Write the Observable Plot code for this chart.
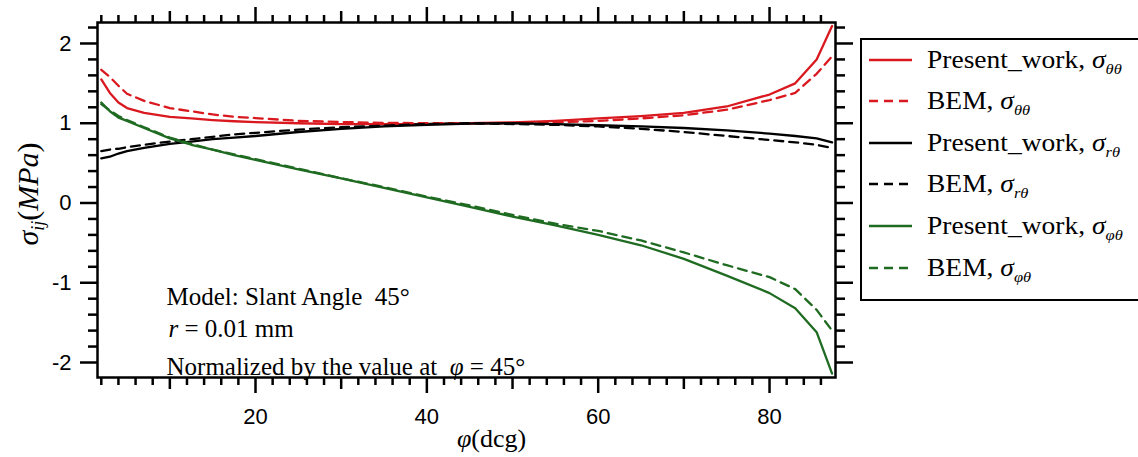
<!DOCTYPE html>
<html>
<head>
<meta charset="utf-8">
<script src="https://cdn.jsdelivr.net/npm/d3@7"></script>
<script src="https://cdn.jsdelivr.net/npm/@observablehq/plot@0.6"></script>
<style>
  body { margin: 0; background: #fff; }
  #wrap { position: relative; width: 1138px; height: 457px; overflow: hidden; background: #fff; }
  #legend { position: absolute; left: 860px; top: 38px; width: 300px; height: 263px; border: 2.5px solid #000;
            box-sizing: border-box; font-family: "Liberation Serif", "Times New Roman", serif; font-size: 25px; color: #000; }
  .row { position: absolute; left: 0; height: 42px; display: flex; align-items: center; white-space: nowrap; }
  .row svg { margin-left: 7px; margin-right: 15px; flex: none; }
  .row span { display: inline-block; transform: scaleX(1.1); transform-origin: left center; }
  .row sub { font-style: italic; font-size: 15px; vertical-align: -6px; line-height: 0; }
</style>
</head>
<body>
<div id="wrap"></div>
<script>
// ---- data ----
const phi        = [2, 3, 4, 5, 7, 10, 12.5, 15, 17.5, 20, 25, 30, 35, 40, 45, 50, 55, 60, 65, 70, 75, 80, 83, 85.5, 87.3];
const presentTT  = [1.55, 1.38, 1.26, 1.19, 1.13, 1.08, 1.06, 1.04, 1.025, 1.015, 1.0, 0.99, 0.99, 0.99, 1.0, 1.01, 1.03, 1.06, 1.09, 1.13, 1.21, 1.36, 1.50, 1.80, 2.22];
const bemTT      = [1.67, 1.58, 1.47, 1.37, 1.28, 1.19, 1.15, 1.11, 1.08, 1.065, 1.03, 1.015, 1.005, 1.0, 1.0, 1.0, 1.01, 1.03, 1.06, 1.10, 1.17, 1.29, 1.38, 1.62, 1.84];
const presentRT  = [0.56, 0.58, 0.62, 0.65, 0.69, 0.74, 0.77, 0.80, 0.82, 0.84, 0.89, 0.93, 0.96, 0.98, 0.995, 1.0, 0.99, 0.975, 0.96, 0.94, 0.91, 0.87, 0.84, 0.81, 0.76];
const bemRT      = [0.65, 0.67, 0.68, 0.70, 0.73, 0.77, 0.80, 0.83, 0.86, 0.88, 0.92, 0.95, 0.97, 0.99, 1.0, 0.99, 0.98, 0.96, 0.93, 0.89, 0.84, 0.79, 0.76, 0.73, 0.69];
const presentPT  = [1.26, 1.15, 1.07, 1.03, 0.94, 0.81, 0.73, 0.67, 0.60, 0.54, 0.42, 0.31, 0.19, 0.07, -0.05, -0.17, -0.28, -0.40, -0.53, -0.70, -0.91, -1.13, -1.32, -1.62, -2.14];
const bemPT      = [1.24, 1.16, 1.09, 1.04, 0.95, 0.82, 0.74, 0.67, 0.61, 0.55, 0.43, 0.31, 0.20, 0.08, -0.03, -0.15, -0.26, -0.35, -0.47, -0.62, -0.78, -0.93, -1.08, -1.34, -1.60];

const legendLabels = [
  "Present_work, <i>σ</i><sub>θθ</sub>",
  "BEM, <i>σ</i><sub>θθ</sub>",
  "Present_work, <i>σ</i><sub>rθ</sub>",
  "BEM, <i>σ</i><sub>rθ</sub>",
  "Present_work, <i>σ</i><sub>φθ</sub>",
  "BEM, <i>σ</i><sub>φθ</sub>"
];
const notes = ["Model: Slant Angle  45°", "*r* = 0.01 mm", "Normalized by the value at  *φ* = 45°"];
const xLabel = "*φ*(dcg)";
const yLabel = "*σ*~ij~(*MPa*)";
const xMajor = [20, 40, 60, 80];
const yMajor = [-2, -1, 0, 1, 2];

// ---- styles ----
const RED = "#d9191f", GREEN = "#1f6b22", BLACK = "#000";
const DASH = "9,6";
const seriesValues = [presentTT, bemTT, presentRT, bemRT, presentPT, bemPT];
const seriesStyle = [
  {stroke: RED, dash: null}, {stroke: RED, dash: DASH},
  {stroke: BLACK, dash: null}, {stroke: BLACK, dash: DASH},
  {stroke: GREEN, dash: null}, {stroke: GREEN, dash: DASH}
];

const xMid = [10, 30, 50, 70];
const xMinor = d3.range(2, 88, 2).filter(d => d % 10 !== 0);
const yMinor = d3.range(-10, 12).map(i => i / 5).filter(d => Math.abs(d - Math.round(d)) > 1e-9);

const W = 1138, H = 457;
const fLeft = 97, fRight = 835, fTop = 22, fBottom = 377;
const tk = {stroke: "#000", strokeWidth: 2.5, label: null};

const lineMarks = seriesValues.map((vals, i) =>
  Plot.line(phi.map((p, j) => ({phi: p, v: vals[j]})), {
    x: "phi", y: "v", stroke: seriesStyle[i].stroke, strokeWidth: 2.3,
    strokeDasharray: seriesStyle[i].dash ?? undefined
  })
);

const serif = "Liberation Serif, Times New Roman, serif";
const svg = Plot.plot({
  width: W, height: H,
  marginLeft: fLeft, marginRight: W - fRight, marginTop: fTop, marginBottom: H - fBottom,
  x: {domain: [1.556, 87.70]},
  y: {domain: [-2.188, 2.263]},
  style: {fontFamily: "Liberation Sans, Arial, sans-serif", fontSize: "22px", color: "#000", background: "#fff", overflow: "visible"},
  marks: [
    ...lineMarks,
    Plot.frame({stroke: "#000", strokeWidth: 2.5}),
    // bottom axis
    Plot.axisX(xMajor, {anchor: "bottom", tickSize: 16, tickPadding: 15, tickFormat: d => String(d), fontSize: 22, ...tk}),
    Plot.axisX(xMid, {anchor: "bottom", tickSize: 12, fill: "none", ...tk}),
    Plot.axisX(xMinor, {anchor: "bottom", tickSize: 8, fill: "none", ...tk}),
    // top mirror axis
    Plot.axisX(xMajor, {anchor: "top", tickSize: 16, fill: "none", ...tk}),
    Plot.axisX(xMid, {anchor: "top", tickSize: 12, fill: "none", ...tk}),
    Plot.axisX(xMinor, {anchor: "top", tickSize: 8, fill: "none", ...tk}),
    // left axis
    Plot.axisY(yMajor, {anchor: "left", tickSize: 17, tickPadding: 9, tickFormat: d => String(d), fontSize: 22, ...tk}),
    Plot.axisY(yMinor, {anchor: "left", tickSize: 9, fill: "none", ...tk}),
    // right mirror axis
    Plot.axisY(yMajor, {anchor: "right", tickSize: 17, fill: "none", ...tk}),
    Plot.axisY(yMinor, {anchor: "right", tickSize: 9, fill: "none", ...tk}),
    // annotations
    Plot.text([notes[0]], {text: d => d, frameAnchor: "top-left", dx: 69, dy: 265, textAnchor: "start", fontFamily: serif, fontSize: 25, fill: "#000"}),
    Plot.text([notes[1]], {text: d => d, frameAnchor: "top-left", dx: 71, dy: 297, textAnchor: "start", fontFamily: serif, fontSize: 25, fill: "#000"}),
    Plot.text([notes[2]], {text: d => d, frameAnchor: "top-left", dx: 69, dy: 335, textAnchor: "start", fontFamily: serif, fontSize: 25, fill: "#000"}),
    // axis titles
    Plot.text([xLabel], {text: d => d, frameAnchor: "bottom", dx: 25, dy: 69, textAnchor: "middle", fontFamily: serif, fontSize: 26, fill: "#000"}),
    Plot.text([yLabel], {text: d => d, frameAnchor: "left", dx: -69, dy: -6, rotate: -90, textAnchor: "middle", lineAnchor: "middle", fontFamily: serif, fontSize: 30, fill: "#000"})
  ]
});

// rich text: *italic*, ~subscript~
d3.select(svg).selectAll("text").each(function () {
  const t = this.textContent;
  if (!/[*~]/.test(t)) return;
  const parts = t.split(/(\*[^*]+\*|~[^~]+~)/).filter(s => s.length);
  const el = d3.select(this);
  el.text(null);
  let pendingUp = false;
  for (const p of parts) {
    const ts = el.append("tspan");
    if (p.startsWith("~")) {
      ts.text(p.slice(1, -1)).attr("font-style", "italic").attr("font-size", "0.6em").attr("dy", "0.35em");
      pendingUp = true;
      continue;
    }
    if (p.startsWith("*")) ts.text(p.slice(1, -1)).attr("font-style", "italic");
    else ts.text(p);
    if (pendingUp) { ts.attr("dy", "-0.21em"); pendingUp = false; }
  }
});

const wrap = document.getElementById("wrap");
wrap.appendChild(svg);

// legend
const legend = document.createElement("div");
legend.id = "legend";
const rowCenters = [60, 101, 143, 184, 226, 268];
legendLabels.forEach((lab, i) => {
  const row = document.createElement("div");
  row.className = "row";
  row.style.top = (rowCenters[i] - 38 - 2.5 - 21) + "px";
  const st = seriesStyle[i];
  row.innerHTML = `<svg width="43" height="6"><line x1="0" x2="43" y1="3" y2="3" stroke="${st.stroke}" stroke-width="2.3" ${st.dash ? `stroke-dasharray="${st.dash}"` : ""}/></svg><span>${lab}</span>`;
  legend.appendChild(row);
});
wrap.appendChild(legend);
</script>
</body>
</html>
